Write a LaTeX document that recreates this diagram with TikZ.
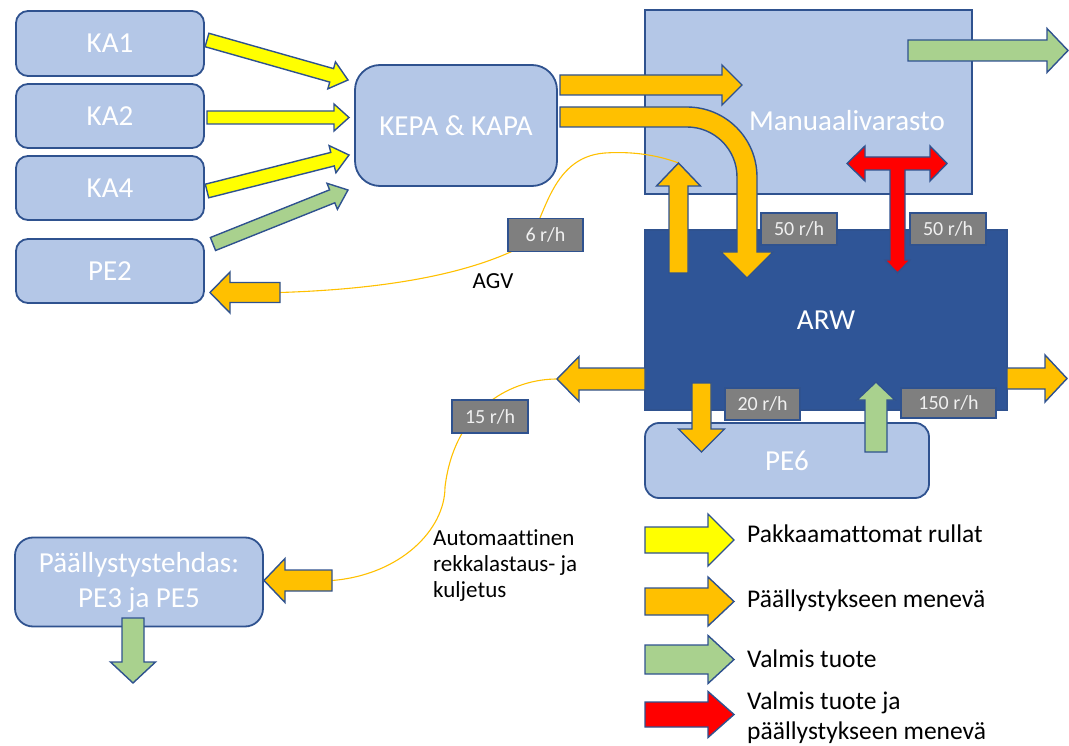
\documentclass[tikz,border=0pt]{standalone}
\usepackage{fontspec}
\setmainfont{Carlito}[Ligatures=NoCommon]
\usetikzlibrary{calc}

\definecolor{boxfill}{HTML}{B4C7E7}
\definecolor{boxedge}{HTML}{2F528F}
\definecolor{arwfill}{HTML}{2F5597}
\definecolor{tagfill}{HTML}{7F7F7F}
\definecolor{flowyellow}{HTML}{FFFF00}
\definecolor{floworange}{HTML}{FFC000}
\definecolor{flowgreen}{HTML}{A9D18E}
\definecolor{flowred}{HTML}{FF0000}
\definecolor{routeline}{HTML}{FFC000}

\tikzset{
  site/.style={draw=boxedge, fill=boxfill, line width=1.8pt, rounded corners=12pt,
    text=white, font=\fontsize{29}{35}\selectfont, inner sep=0pt, outer sep=0pt},
  hall/.style={draw=boxedge, line width=1.8pt, inner sep=0pt, outer sep=0pt},
  tag/.style={draw=boxedge, fill=tagfill, line width=1.5pt, text=white!94!black,
    font=\fontsize{20}{22}\selectfont, inner sep=0pt, outer sep=0pt},
  note/.style={text=black, font=\fontsize{23}{26}\selectfont, inner sep=0pt, align=left},
  legendtext/.style={text=black, font=\fontsize{25.5}{30}\selectfont, inner sep=0pt, align=left, anchor=west},
  flowedge/.style={draw=boxedge, line width=1.4pt, line join=miter},
  route/.style={draw=routeline, line width=1.1pt},
}

% block arrow: #1 fill colour, #2 tail, #3 tip, #4 half shaft width,
% #5 half head width, #6 head length
\newcommand\blockarrow[6]{%
  \coordinate (bab) at ($#3!#6!#2$);
  \path[flowedge, fill=#1]
    ($#2!#4!90:#3$) -- ($(bab)!#4!90:#3$) -- ($(bab)!#5!90:#3$) -- #3
    -- ($(bab)!#5!-90:#3$) -- ($(bab)!#4!-90:#3$) -- ($#2!#4!-90:#3$) -- cycle;
}

\begin{document}
\begin{tikzpicture}[x=1pt,y=-1pt]
\useasboundingbox (0,0) rectangle (1069,746);

% sites
\node[site, minimum width=188pt, minimum height=65pt] (ka1) at (110,43.5) {KA1};
\node[site, minimum width=188pt, minimum height=64pt] (ka2) at (110,116) {KA2};
\node[site, minimum width=188pt, minimum height=64pt] (ka4) at (110,188) {KA4};
\node[site, minimum width=188pt, minimum height=64pt] (pe2) at (110,271) {PE2};
\node[site, rounded corners=25pt, minimum width=202pt, minimum height=121pt] (kepa) at (456,125.5) {KEPA \& KAPA};
\node[hall, fill=boxfill, minimum width=327pt, minimum height=184pt] (manu) at (808.5,102) {};
\node[text=white, font=\fontsize{29}{35}\selectfont, inner sep=0pt] (manutext) at (847,121) {Manuaalivarasto};
\node[hall, fill=arwfill, text=white, font=\fontsize{29}{35}\selectfont, minimum width=362pt, minimum height=180pt] (arw) at (826,320) {ARW};
\node[site, rounded corners=14pt, minimum width=284pt, minimum height=75pt] (pe6) at (787,460.5) {PE6};
\node[site, rounded corners=18pt, minimum width=248pt, minimum height=89pt, align=center,
  font=\fontsize{29}{35}\selectfont] (pe35) at (139,582) {Päällystystehdas:\\PE3 ja PE5};

% flow end points
\coordinate (ka1o) at (207,40);     \coordinate (ka1i) at (348,80);
\coordinate (ka2o) at (207,117.5);  \coordinate (ka2i) at (349,117.5);
\coordinate (ka4o) at (207,191);    \coordinate (ka4i) at (349,155);
\coordinate (pe2o) at (213,244);    \coordinate (pe2i) at (348,190);
\coordinate (agvo) at (280,292.5);  \coordinate (agvi) at (210,292.5);
\coordinate (kepao) at (560,85);    \coordinate (manui) at (742,85);
\coordinate (upo) at (678.5,273);   \coordinate (upi) at (678.5,163);
\coordinate (manuo) at (908,50.5);  \coordinate (shipi) at (1068,50.5);
\coordinate (arwlo) at (645,379);   \coordinate (arwli) at (557,379);
\coordinate (arwro) at (1007,378.5);\coordinate (arwri) at (1067,378.5);
\coordinate (pe6o) at (701.5,383);  \coordinate (pe6i) at (701.5,452);
\coordinate (pe6bo) at (876,452);   \coordinate (pe6bi) at (876,382);
\coordinate (trucko) at (332,580.5);\coordinate (trucki) at (264,580.5);
\coordinate (pe35o) at (133,618);   \coordinate (pe35i) at (133,683);

% transport routes
\path[route] (agvo) .. controls (390,289) and (472,273) .. (525,245)
  .. controls (545,225) and (548,157) .. (605,153)
  .. controls (635,151) and (660,156) .. (upi);
\path[route] (arwli) .. controls (515,379) and (455,405) .. (445,487)
  .. controls (445,530) and (400,575) .. (trucko);

% unpacked rolls
\blockarrow{flowyellow}{(ka1o)}{(ka1i)}{7pt}{14pt}{17pt}
\blockarrow{flowyellow}{(ka2o)}{(ka2i)}{6.5pt}{13.5pt}{15pt}
\blockarrow{flowyellow}{(ka4o)}{(ka4i)}{7pt}{14pt}{17pt}
% finished goods
\blockarrow{flowgreen}{(pe2o)}{(pe2i)}{7pt}{14pt}{17pt}
\blockarrow{flowgreen}{(manuo)}{(shipi)}{10.5pt}{22pt}{21pt}
\blockarrow{flowgreen}{(pe6bo)}{(pe6bi)}{11pt}{19pt}{18pt}
\blockarrow{flowgreen}{(pe35o)}{(pe35i)}{11pt}{22.5pt}{21pt}
% rolls going to coating
\blockarrow{floworange}{(agvo)}{(agvi)}{10pt}{20.5pt}{20pt}
\blockarrow{floworange}{(kepao)}{(manui)}{10pt}{20pt}{20pt}
\blockarrow{floworange}{(upo)}{(upi)}{9.5pt}{22pt}{23pt}
\blockarrow{floworange}{(arwlo)}{(arwli)}{11pt}{22.5pt}{22pt}
\blockarrow{floworange}{(arwro)}{(arwri)}{10.5pt}{23.5pt}{22pt}
\blockarrow{floworange}{(pe6o)}{(pe6i)}{9.5pt}{23pt}{23pt}
\blockarrow{floworange}{(trucko)}{(trucki)}{10.5pt}{22pt}{21pt}

% bent flow from KEPA & KAPA down into ARW
\path[flowedge, fill=floworange]
  (560,107) -- (687,107) .. controls (725.7,107) and (757,138.3) .. (757,177)
  -- (757,252) -- (773,252) -- (747,278) -- (721,252) -- (737,252) -- (737,177)
  .. controls (737,149.4) and (714.6,127) .. (687,127) -- (560,127) -- cycle;

% two-way flow between ARW and Manuaalivarasto
\path[flowedge, fill=flowred]
  (847,163.5) -- (865,146) -- (865,157) -- (930,157) -- (930,146) -- (947,163.5)
  -- (930,181) -- (930,170) -- (905,170) -- (905,260) -- (910,260) -- (897.5,273)
  -- (885,260) -- (890,260) -- (890,170) -- (865,170) -- (865,181) -- cycle;

% rates
\node[tag, minimum width=75pt, minimum height=33pt] (r6) at (545.5,235) {6 r/h};
\node[tag, minimum width=76pt, minimum height=32pt] (r50a) at (799,229) {50 r/h};
\node[tag, minimum width=76pt, minimum height=32pt] (r50b) at (948,229) {50 r/h};
\node[tag, minimum width=75pt, minimum height=32pt] (r20) at (762.5,404) {20 r/h};
\node[tag, minimum width=95pt, minimum height=30pt] (r150) at (948.5,403) {150 r/h};
\node[tag, minimum width=76pt, minimum height=33pt] (r15) at (490,416.5) {15 r/h};

% transport notes
\node[note] (agv) at (493,281) {AGV};
\node[note, anchor=west, font=\fontsize{23}{26}\selectfont] (truck) at (433,566)
  {Automaattinen\\rekkalastaus- ja\\kuljetus};

% legend
\coordinate (l1o) at (645,540);   \coordinate (l1i) at (734,540);
\coordinate (l2o) at (645,601.5); \coordinate (l2i) at (734,601.5);
\coordinate (l3o) at (645,659.5); \coordinate (l3i) at (734,659.5);
\coordinate (l4o) at (645,714.5); \coordinate (l4i) at (734,714.5);
\blockarrow{flowyellow}{(l1o)}{(l1i)}{13pt}{26pt}{26pt}
\blockarrow{floworange}{(l2o)}{(l2i)}{13.5pt}{24.5pt}{26pt}
\blockarrow{flowgreen}{(l3o)}{(l3i)}{14.5pt}{24pt}{26pt}
\blockarrow{flowred}{(l4o)}{(l4i)}{12.5pt}{23pt}{26pt}
\node[legendtext] (lt1) at (747,534) {Pakkaamattomat rullat};
\node[legendtext] (lt2) at (747,601) {Päällystykseen menevä};
\node[legendtext] (lt3) at (747,659) {Valmis tuote};
\node[legendtext] (lt4) at (747,718) {Valmis tuote ja\\päällystykseen menevä};
\end{tikzpicture}
\end{document}
